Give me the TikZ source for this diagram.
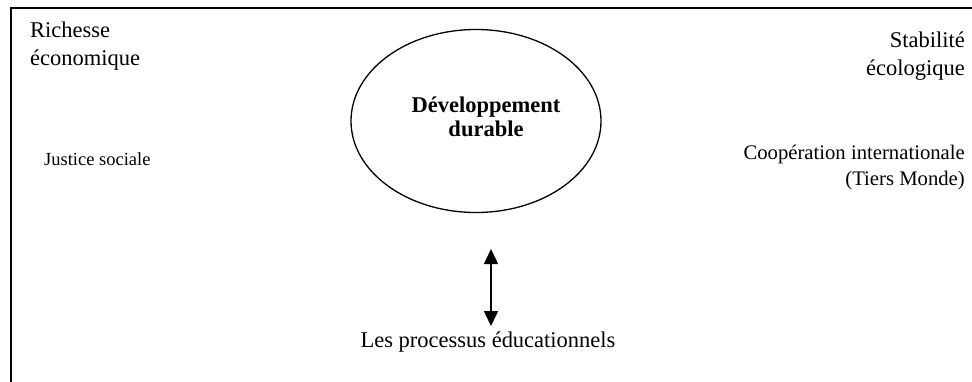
\documentclass[tikz,border=0pt]{standalone}
\usepackage{fontspec}
\setmainfont{Liberation Serif}
\usetikzlibrary{shapes.geometric,arrows.meta}
\begin{document}
\begin{tikzpicture}[x=1pt,y=-1pt,
  label/.style={inner sep=0pt,font=\fontsize{22.5}{27.5}\selectfont},
  mid/.style={inner sep=0pt,font=\fontsize{20.7}{26}\selectfont},
  small/.style={inner sep=0pt,font=\fontsize{18.5}{22}\selectfont},
  core/.style={ellipse,draw,line width=1.3pt,minimum width=250pt,minimum height=183pt,inner sep=0pt},
  coretext/.style={inner sep=0pt,align=center,font=\fontsize{22.5}{23.5}\selectfont\bfseries},
  link/.style={line width=1.5pt,{Triangle[width=14pt,length=15pt]}-{Triangle[width=14pt,length=15pt]}}]
  \useasboundingbox (0,0) rectangle (972,381);
  % outer frame, running past the right and bottom edges
  \draw[line width=1.6pt] (11,400) -- (11,8) -- (990,8);
  % corner topics
  \node[label,anchor=west,align=left] (rich) at (30,46) {Richesse\\économique};
  \node[label,anchor=east,align=right] (stab) at (965,56) {Stabilité\\écologique};
  \node[small,anchor=west] (just) at (44,159) {Justice sociale};
  \node[mid,anchor=east,align=right] (coop) at (965,168) {Coopération internationale\\(Tiers Monde)};
  % central idea
  \node[core] (dd) at (476,121) {};
  \node[coretext] (ddtext) at (486,117) {Développement\\durable};
  % education and its two-way link
  \node[label] (edu) at (488,342) {Les processus éducationnels};
  \coordinate (up) at (491,249);
  \coordinate (down) at (491,326);
  \draw[link] (up) -- (down);
\end{tikzpicture}
\end{document}
